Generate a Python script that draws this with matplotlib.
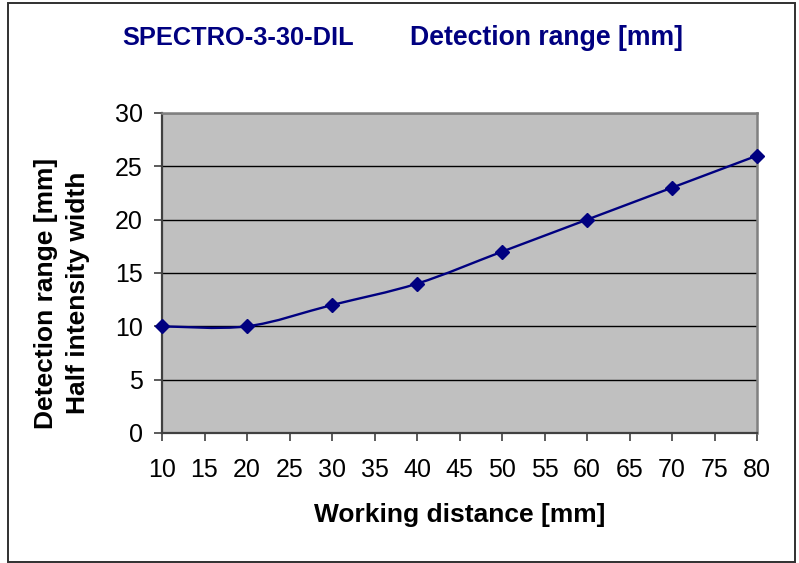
import matplotlib
matplotlib.use("Agg")
import matplotlib.pyplot as plt
from matplotlib.path import Path
from matplotlib.patches import PathPatch, Rectangle
import numpy as np

plt.rcParams['font.family'] = ['Liberation Sans', 'DejaVu Sans']

title_left = "SPECTRO-3-30-DIL"
title_right = "Detection range [mm]"
x_label = "Working distance [mm]"
y_label = "Detection range [mm]\nHalf intensity width"

working_distance = [10, 20, 30, 40, 50, 60, 70, 80]
detection_range = [10, 10, 12, 14, 17, 20, 23, 26]

x_ticks = list(range(10, 81, 5))
y_ticks = list(range(0, 31, 5))

NAVY = "#000080"
W, H = 799, 563
fig = plt.figure(figsize=(W / 100, H / 100), dpi=100)
fig.patch.set_facecolor("white")

# chart border
fig.patches.append(Rectangle((8 / W, 1 - 561.5 / H), (795 - 8) / W, (561.5 - 3) / H,
                             transform=fig.transFigure, fill=False,
                             edgecolor="#303030", linewidth=1.4))

ax = fig.add_axes([162 / W, 1 - 433 / H, (757 - 162) / W, (433 - 113) / H])
ax.set_facecolor("#C0C0C0")
ax.set_xlim(10, 80)
ax.set_ylim(0, 30)
ax.set_xticks(x_ticks)
ax.set_yticks(y_ticks)
ax.tick_params(axis="both", direction="out", length=6, width=1.2, color="#404040",
               labelsize=18, labelcolor="black")
ax.tick_params(axis="x", pad=12)
ax.tick_params(axis="y", pad=8)
ax.grid(axis="y", color="black", linewidth=1.0)
ax.set_axisbelow(True)
for side in ["left", "bottom"]:
    ax.spines[side].set_color("#404040")
    ax.spines[side].set_linewidth(1.6)
for side in ["top", "right"]:
    ax.spines[side].set_color("#808080")
    ax.spines[side].set_linewidth(1.8)

# Excel-style smoothed line (cubic Bezier through data points)
xs = np.array(working_distance, dtype=float)
ys = np.array(detection_range, dtype=float)
pts = np.column_stack([xs, ys])
n = len(pts)
verts = [pts[0]]
codes = [Path.MOVETO]
for i in range(n - 1):
    p0 = pts[i - 1] if i > 0 else pts[i]
    p1 = pts[i]
    p2 = pts[i + 1]
    p3 = pts[i + 2] if i + 2 < n else pts[i + 1]
    c1 = p1 + (p2 - p0) / 6.0
    c2 = p2 - (p3 - p1) / 6.0
    verts += [c1, c2, p2]
    codes += [Path.CURVE4] * 3
ax.add_patch(PathPatch(Path(verts, codes), fill=False, edgecolor=NAVY,
                       linewidth=1.7, zorder=3, clip_on=False))
ax.plot(working_distance, detection_range, linestyle="none", marker="D",
        markersize=6.8, color=NAVY, zorder=4, clip_on=False)

fig.text(238 / W, 1 - 38 / H, title_left, color=NAVY, fontsize=18.3,
         fontweight="bold", ha="center", va="center")
fig.text(547 / W, 1 - 38 / H, title_right, color=NAVY, fontsize=19.2,
         fontweight="bold", ha="center", va="center")
fig.text(460 / W, 1 - 515 / H, x_label, color="black", fontsize=19,
         fontweight="bold", ha="center", va="center")
fig.text(62 / W, 1 - 293 / H, y_label, color="black", fontsize=19,
         fontweight="bold", ha="center", va="center", rotation=90,
         multialignment="center", linespacing=1.38)

fig.savefig("out.png", dpi=100)
